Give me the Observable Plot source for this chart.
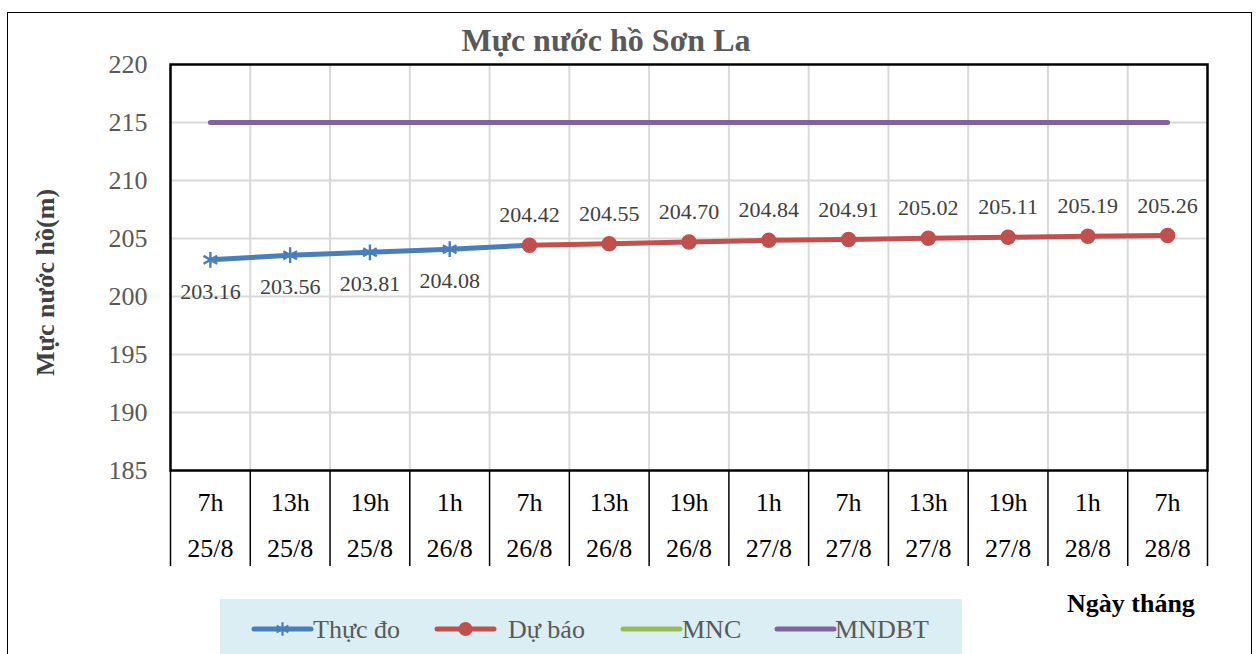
<!DOCTYPE html>
<html>
<head>
<meta charset="utf-8">
<script src="https://cdn.jsdelivr.net/npm/d3@7"></script>
<script src="https://cdn.jsdelivr.net/npm/@observablehq/plot@0.6"></script>
<style>
  body { margin: 0; background: #fff; }
  #wrap { position: relative; width: 1258px; height: 654px; overflow: hidden; font-family: "Liberation Serif", "Times New Roman", serif; }
  #outer { position: absolute; left: 7px; top: 12px; width: 1245px; height: 700px; border: 1.5px solid #000; box-sizing: border-box; }
  #chart { position: absolute; left: 0; top: 0; }
  #chart svg text { font-family: "Liberation Serif", "Times New Roman", serif; }
  #title { position: absolute; left: 0; width: 1212px; top: 24px; text-align: center; font-size: 32px; line-height: 32px; font-weight: bold; color: #595959; font-family: "Liberation Serif", serif; }
  #xlabel { position: absolute; left: 1067px; top: 591px; font-size: 26px; line-height: 26px; font-weight: bold; color: #000; white-space: nowrap; font-family: "Liberation Serif", serif; }
  #legend { position: absolute; left: 220px; top: 599px; width: 742px; height: 60px; background: #dbeef4; }
  .lg-sample { position: absolute; }
  .lg-text { position: absolute; top: 617px; font-size: 26px; line-height: 26px; color: #595959; white-space: nowrap; font-family: "Liberation Serif", serif; }
</style>
</head>
<body>
<div id="wrap">
  <div id="outer"></div>
  <div id="chart"></div>
  <div id="title">Mực nước hồ Sơn La</div>
  <div id="xlabel">Ngày tháng</div>
  <div id="legend"></div>
</div>
<script>
// ---- data ----
const hours = ["7h","13h","19h","1h","7h","13h","19h","1h","7h","13h","19h","1h","7h"];
const dates = ["25/8","25/8","25/8","26/8","26/8","26/8","26/8","27/8","27/8","27/8","27/8","28/8","28/8"];
const thucDo = [203.16, 203.56, 203.81, 204.08, 204.42, null, null, null, null, null, null, null, null];
const duBao  = [null, null, null, null, 204.42, 204.55, 204.70, 204.84, 204.91, 205.02, 205.11, 205.19, 205.26];
const mnc    = [175, 175, 175, 175, 175, 175, 175, 175, 175, 175, 175, 175, 175];
const mndbt  = [215, 215, 215, 215, 215, 215, 215, 215, 215, 215, 215, 215, 215];
const yTicks = [185, 190, 195, 200, 205, 210, 215, 220];
const legendNames  = ["Thực đo", "Dự báo", "MNC", "MNDBT"];
const legendColors = ["#4a7ebb", "#c0504d", "#9bbb59", "#8064a2"];

const SERIF = '"Liberation Serif", "Times New Roman", serif';

// ---- rows ----
const rows = hours.map((h, i) => ({i, label: h + "\n" + dates[i], thucDo: thucDo[i], duBao: duBao[i], mnc: mnc[i], mndbt: mndbt[i]}));
const tdRows = rows.filter(d => d.thucDo != null);
const dbRows = rows.filter(d => d.duBao != null);
const tdOnly = tdRows.filter(d => d.duBao == null);
const idx = rows.map(d => d.i);
const bounds = d3.range(-0.5, hours.length, 1);            // band boundaries
const innerBounds = bounds.slice(1, -1);

const plot = Plot.plot({
  width: 1258, height: 654,
  marginLeft: 170, marginRight: 51, marginTop: 64, marginBottom: 184,
  x: {type: "linear", domain: [-0.5, hours.length - 0.5]},
  y: {domain: [185, 220]},
  style: {fontFamily: SERIF, background: "transparent", overflow: "visible"},
  marks: [
    Plot.ruleY(yTicks.slice(1, -1), {stroke: "#d9d9d9", strokeWidth: 2}),
    Plot.ruleX(innerBounds, {stroke: "#d9d9d9", strokeWidth: 2}),
    Plot.axisY({ticks: yTicks, tickSize: 0, tickPadding: 23, fontSize: 26, fontFamily: SERIF, color: "#595959", label: null}),
    Plot.axisX({ticks: idx, tickSize: 0, tickPadding: 8, fontSize: 26, fontFamily: SERIF, lineHeight: 1.77, color: "#000",
                tickFormat: i => rows[i].label, label: null}),
    Plot.axisX({ticks: bounds, tickSize: 96, tickFormat: () => "", color: "#000", strokeWidth: 1.5, label: null}),
    Plot.line(rows, {x: "i", y: "mnc", stroke: legendColors[2], strokeWidth: 5, strokeLinecap: "round", clip: true}),
    Plot.line(rows, {x: "i", y: "mndbt", stroke: legendColors[3], strokeWidth: 5, strokeLinecap: "round"}),
    Plot.line(tdRows, {x: "i", y: "thucDo", stroke: legendColors[0], strokeWidth: 5, strokeLinecap: "round", strokeLinejoin: "round"}),
    Plot.line(dbRows, {x: "i", y: "duBao", stroke: legendColors[1], strokeWidth: 5, strokeLinecap: "round", strokeLinejoin: "round"}),
    Plot.dot(tdOnly, {x: "i", y: "thucDo", symbol: "asterisk", r: 7.5, stroke: legendColors[0], strokeWidth: 2.4}),
    Plot.dot(dbRows, {x: "i", y: "duBao", r: 7, fill: legendColors[1], stroke: legendColors[1]}),
    Plot.text(tdOnly, {x: "i", y: "thucDo", text: d => d.thucDo.toFixed(2), dy: 32, fontSize: 22, fontFamily: SERIF, fill: "#404040"}),
    Plot.text(dbRows, {x: "i", y: "duBao", text: d => d.duBao.toFixed(2), dy: -30, fontSize: 22, fontFamily: SERIF, fill: "#404040"}),
    Plot.frame({stroke: "#000", strokeWidth: 2.5}),
    Plot.text(["Mực nước hồ(m)"], {frameAnchor: "left", textAnchor: "middle", dx: -125, dy: 15, rotate: -90, fontSize: 26,
                                   fontFamily: SERIF, fontWeight: "bold", fill: "#404040"})
  ]
});
document.getElementById("chart").appendChild(plot);

// ---- legend ----
const sampleX = [254, 437, 623, 777];
const textX   = [313, 508, 682, 835];
const wrap = document.getElementById("wrap");
legendNames.forEach((name, k) => {
  const svg = d3.select(wrap).append("svg").attr("class", "lg-sample")
    .style("left", (sampleX[k] - 4) + "px").style("top", "618px")
    .attr("width", 66).attr("height", 22);
  svg.append("line").attr("x1", 4).attr("x2", 61).attr("y1", 11).attr("y2", 11)
    .attr("stroke", legendColors[k]).attr("stroke-width", 5).attr("stroke-linecap", "round");
  if (k === 0) {
    svg.append("path").attr("d", d3.symbol(d3.symbolAsterisk, 130)()).attr("transform", "translate(32.5,11)")
      .attr("stroke", legendColors[k]).attr("stroke-width", 2.2).attr("fill", "none");
  } else if (k === 1) {
    svg.append("circle").attr("cx", 32.5).attr("cy", 11).attr("r", 7).attr("fill", legendColors[k]);
  }
  d3.select(wrap).append("div").attr("class", "lg-text").style("left", textX[k] + "px").text(name);
});
</script>
</body>
</html>
